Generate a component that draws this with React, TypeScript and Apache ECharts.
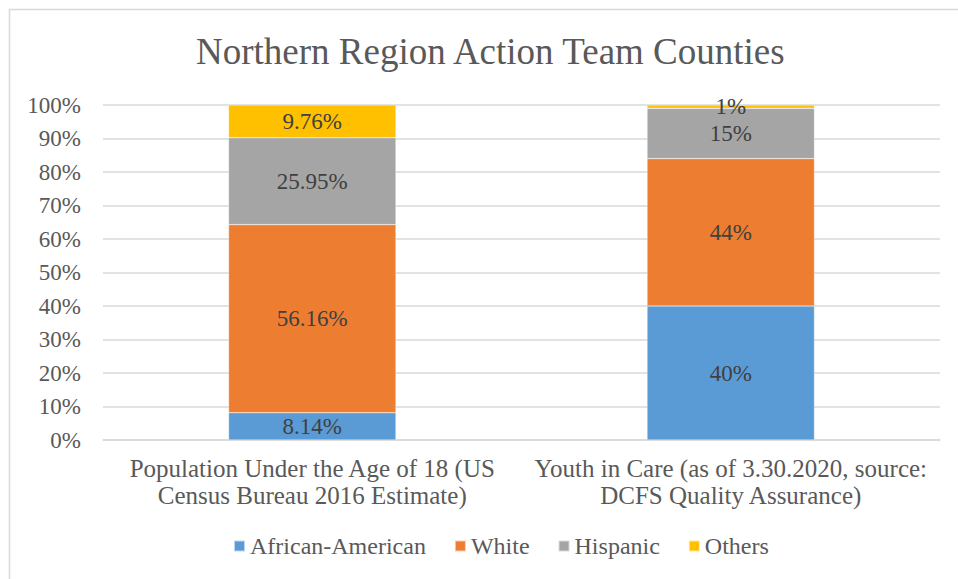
import React, { useEffect, useRef } from "react";
import * as echarts from "echarts";

const categories = [
  "Population Under the Age of 18 (US\nCensus Bureau 2016 Estimate)",
  "Youth in Care (as of 3.30.2020, source:\nDCFS Quality Assurance)",
];
const seriesNames = ["African-American", "White", "Hispanic", "Others"];
const africanAmerican = [8.14, 40];
const white = [56.16, 44];
const hispanic = [25.95, 15];
const others = [9.76, 1];
const labelTexts = [
  ["8.14%", "40%"],
  ["56.16%", "44%"],
  ["25.95%", "15%"],
  ["9.76%", "1%"],
];
const colors = ["#5B9BD5", "#ED7D31", "#A5A5A5", "#FFC000"];

const FONT = "Liberation Serif";

export default function App() {
  const ref = useRef<HTMLDivElement>(null);
  useEffect(() => {
    if (!ref.current) return;
    const chart = echarts.init(ref.current, undefined, { renderer: "svg" });
    const values = [africanAmerican, white, hispanic, others];
    chart.setOption({
      animation: false,
      backgroundColor: "#fff",
      textStyle: { fontFamily: FONT },
      graphic: [
        {
          type: "rect",
          shape: { x: 9.5, y: 9.5, width: 1200, height: 1200 },
          style: { fill: "none", stroke: "#D9D9D9", lineWidth: 1.5 },
          silent: true,
        },
      ],
      title: {
        text: "Northern Region Action Team Counties",
        left: 191,
        top: 28,
        textStyle: { fontFamily: FONT, fontSize: 37, fontWeight: "normal", color: "#595959" },
      },
      legend: {
        data: seriesNames,
        bottom: 16,
        left: 228,
        itemWidth: 11,
        itemHeight: 11,
        itemGap: 28,
        icon: "rect",
        textStyle: { fontFamily: FONT, fontSize: 24, color: "#595959" },
      },
      grid: { left: 103, right: 18, top: 105, bottom: 139, containLabel: false },
      xAxis: {
        type: "category",
        data: categories,
        axisLine: { lineStyle: { color: "#D9D9D9", width: 1.5 } },
        axisTick: { show: false },
        axisLabel: {
          fontFamily: FONT,
          fontSize: 25,
          color: "#595959",
          lineHeight: 27,
          margin: 15,
          interval: 0,
        },
      },
      yAxis: {
        type: "value",
        min: 0,
        max: 100,
        interval: 10,
        axisLine: { show: false },
        axisTick: { show: false },
        splitLine: { lineStyle: { color: "#D9D9D9", width: 1.5 } },
        axisLabel: {
          fontFamily: FONT,
          fontSize: 23,
          color: "#595959",
          margin: 22,
          formatter: (v: number) => `${v}%`,
        },
      },
      series: seriesNames.map((name, i) => ({
        name,
        type: "bar",
        stack: "total",
        barWidth: "40%",
        data: values[i],
        itemStyle: { color: colors[i], borderColor: "rgba(255,255,255,0.6)", borderWidth: 0.5 },
        label: {
          show: true,
          position: "inside",
          fontFamily: FONT,
          fontSize: 23,
          color: "#404040",
          formatter: (p: any) => labelTexts[i][p.dataIndex],
        },
      })),
    });
    return () => chart.dispose();
  }, []);
  return (
    <div
      ref={ref}
      style={{ position: "fixed", left: 0, top: 0, width: 958, height: 579 }}
    />
  );
}
